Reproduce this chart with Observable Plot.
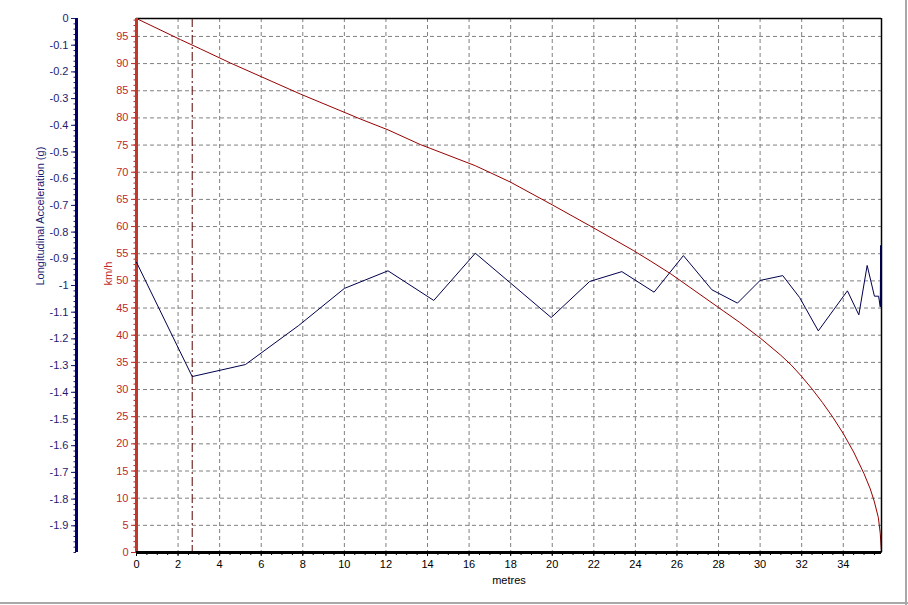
<!DOCTYPE html>
<html><head><meta charset="utf-8">
<script src="https://cdn.jsdelivr.net/npm/d3@7"></script>
<script src="https://cdn.jsdelivr.net/npm/@observablehq/plot@0.6"></script>
<style>
html,body{margin:0;padding:0;background:#fff;}
#wrap{position:relative;width:908px;height:605px;overflow:hidden;background:#fff;}
#wrap svg{position:absolute;left:0;top:0;}
.edgeR{position:absolute;left:905px;top:0;width:2px;height:605px;background:#a8a8a8;}
.edgeB{position:absolute;left:0;top:602px;width:908px;height:2px;background:#a8a8a8;}
</style></head><body>
<div id="wrap"><div class="edgeR"></div><div class="edgeB"></div></div>
<script>
// ---- data ----
const speedDistM = [0, 2.12, 3.08, 4.52, 7.88, 10.77, 12.1, 13.65, 14.13, 16.3, 17.98, 20.0, 21.97, 23.9, 24.71, 25.7, 28.0, 29.0, 30.0, 31.0, 31.5, 32.0, 32.5, 33.0, 33.5, 34.0, 34.5, 35.0, 35.3, 35.5, 35.69, 35.78, 35.84];
const speedKmh   = [98.3, 94.4, 92.7, 90.1, 84.4, 79.8, 77.8, 75.1, 74.4, 71.2, 68.2, 64.0, 59.8, 55.6, 53.7, 51.3, 45.1, 42.4, 39.5, 36.3, 34.5, 32.4, 30.1, 27.6, 24.9, 21.9, 18.5, 14.5, 11.7, 9.3, 6.4, 3.5, 0];

const accelDistM = [0, 2.68, 5.24, 7.8, 10.0, 12.1, 14.3, 16.3, 19.95, 21.8, 23.35, 24.9, 26.31, 27.68, 28.91, 30.0, 31.09, 31.9, 32.8, 34.2, 34.75, 35.15, 35.5, 35.7, 35.78, 35.8, 35.81, 35.82, 35.83];
const accelG     = [-0.913, -1.341, -1.296, -1.15, -1.011, -0.945, -1.056, -0.879, -1.12, -0.985, -0.948, -1.025, -0.888, -1.016, -1.066, -0.981, -0.963, -1.045, -1.17, -1.02, -1.11, -0.925, -1.04, -1.04, -1.08, -0.85, -1.08, -0.86, -1.0];

const xTicks = [0, 2, 4, 6, 8, 10, 12, 14, 16, 18, 20, 22, 24, 26, 28, 30, 32, 34];
const kmhTicks = [0, 5, 10, 15, 20, 25, 30, 35, 40, 45, 50, 55, 60, 65, 70, 75, 80, 85, 90, 95];
const gTicks = [0, -0.1, -0.2, -0.3, -0.4, -0.5, -0.6, -0.7, -0.8, -0.9, -1, -1.1, -1.2, -1.3, -1.4, -1.5, -1.6, -1.7, -1.8, -1.9];
const gTickLabels = ["0", "-0.1", "-0.2", "-0.3", "-0.4", "-0.5", "-0.6", "-0.7", "-0.8", "-0.9", "-1", "-1.1", "-1.2", "-1.3", "-1.4", "-1.5", "-1.6", "-1.7", "-1.8", "-1.9"];
const markerDistM = 2.68;
const xDomain = [0, 35.84];
const kmhDomain = [0, 98.3];
const gDomain = [-2, 0];

const speed = speedDistM.map((x, i) => ({x, v: speedKmh[i]}));
const accel = accelDistM.map((x, i) => ({x, g: accelG[i]}));
const gLabel = new Map(gTicks.map((d, i) => [d, gTickLabels[i]]));

// ---- layout ----
const W = 908, H = 605, mt = 18, mb = 53, ml = 136, mr = 27;
const font = "'Liberation Sans', Arial, sans-serif";
const baseStyle = {fontFamily: font, fontSize: "11px", background: "transparent", overflow: "visible"};
const RED = "#c02a2a", NAVY = "#1c1c72";

const main = Plot.plot({
  width: W, height: H, marginTop: mt, marginBottom: mb, marginLeft: ml, marginRight: mr,
  style: baseStyle,
  x: {domain: xDomain}, y: {domain: kmhDomain},
  marks: [
    Plot.ruleX(xTicks.filter(d => d > 0), {stroke: "#808080", strokeDasharray: "4,3", strokeWidth: 1}),
    Plot.ruleY(kmhTicks.filter(d => d > 0), {stroke: "#808080", strokeDasharray: "4,3", strokeWidth: 1}),
    Plot.ruleX([markerDistM], {stroke: "#5a0000", strokeDasharray: "9,3,2,3", strokeWidth: 1}),
    Plot.line(speed, {x: "x", y: "v", stroke: "#960000", strokeWidth: 1}),
    Plot.ruleY([kmhDomain[1]], {stroke: "#000", strokeWidth: 1.5}),
    Plot.ruleX([xDomain[1]], {stroke: "#000", strokeWidth: 1.5}),
    Plot.axisY(d3.range(0, 99, 1), {anchor: "left", tickSize: 2.5, text: null, color: "#b02020", label: null}),
    Plot.axisY(kmhTicks, {anchor: "left", tickSize: 5, tickPadding: 3, color: RED, label: null}),
    Plot.axisX(d3.range(0, 35.8, 0.5), {anchor: "bottom", tickSize: 3, text: null, label: null, color: "#000"}),
    Plot.axisX(xTicks, {anchor: "bottom", tickSize: 4, tickPadding: 4, label: null, color: "#000"}),
    Plot.ruleX([0], {stroke: "#c0392b", strokeWidth: 3}),
    Plot.ruleY([0], {stroke: "#000", strokeWidth: 3}),
    Plot.text(["metres"], {frameAnchor: "bottom", dy: 28, lineAnchor: "middle", fill: "#000"}),
    Plot.text(["km/h"], {frameAnchor: "left", dx: -28, rotate: -90, fill: RED})
  ]
});

const accelPlot = Plot.plot({
  width: W, height: H, marginTop: mt, marginBottom: mb, marginLeft: ml, marginRight: mr,
  style: baseStyle,
  x: {domain: xDomain, axis: null}, y: {domain: gDomain, axis: null},
  marks: [
    Plot.line(accel, {x: "x", y: "g", stroke: "#00004d", strokeWidth: 1})
  ]
});

const gAxis = Plot.plot({
  width: 136, height: H, marginTop: mt, marginBottom: mb, marginLeft: 76, marginRight: 59,
  style: baseStyle,
  x: {domain: [0, 1], axis: null}, y: {domain: gDomain, axis: null},
  marks: [
    Plot.axisY(d3.range(0, 101, 1).map(i => -i / 50), {anchor: "left", tickSize: 2.5, text: null, color: NAVY, label: null}),
    Plot.axisY(gTicks, {anchor: "left", tickSize: 5, tickPadding: 3, tickFormat: d => gLabel.get(d), color: NAVY, label: null}),
    Plot.ruleX([0], {stroke: "#000066", strokeWidth: 3}),
    Plot.text(["Longitudinal Acceleration (g)"], {frameAnchor: "left", dx: -36, rotate: -90, fill: NAVY})
  ]
});

const wrap = document.getElementById("wrap");
wrap.appendChild(main);
wrap.appendChild(accelPlot);
wrap.appendChild(gAxis);
</script>
</body></html>
